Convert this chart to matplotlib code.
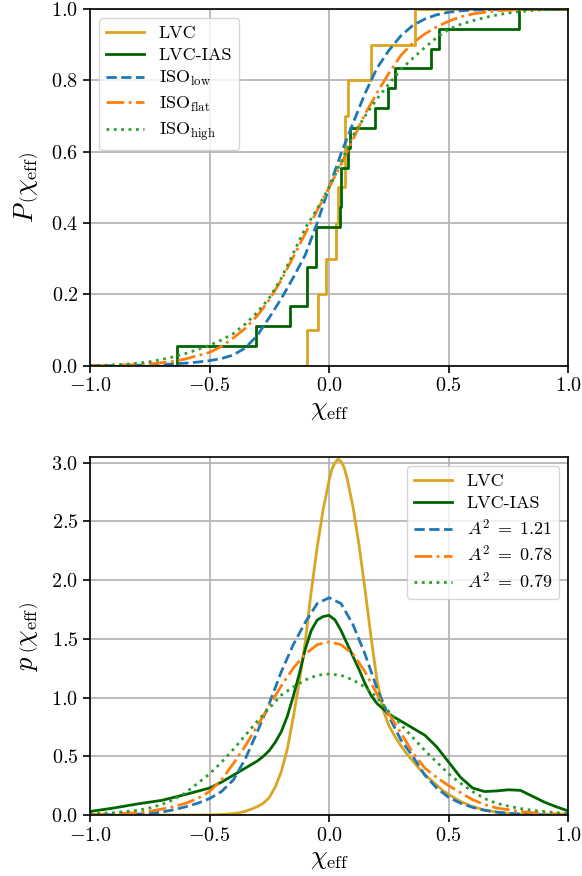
import numpy as np
import matplotlib
matplotlib.use("Agg")
import matplotlib.pyplot as plt

plt.rcParams.update({
    "font.family": "serif",
    "font.serif": ["cmr10"],
    "mathtext.fontset": "cm",
    "axes.formatter.use_mathtext": True,
    "axes.unicode_minus": True,
})

# ---- event values (chi_eff) for the empirical CDFs ----
lvc_events = [-0.094, -0.046, -0.011, 0.028, 0.036, 0.066, 0.066, 0.077, 0.174, 0.358]
ias_events = [-0.635, -0.306, -0.164, -0.094, -0.094, -0.053, -0.053, 0.044, 0.05, 0.05,
              0.08, 0.089, 0.191, 0.247, 0.275, 0.424, 0.46, 0.794]

# ---- common grid for the ISO curves ----
chi_grid = np.linspace(-1.0, 1.0, 41)

cdf_low = [0.000, 0.000, 0.000, 0.001, 0.001, 0.002, 0.003, 0.005, 0.007, 0.010,
           0.014, 0.020, 0.030, 0.050, 0.085, 0.135, 0.188, 0.247, 0.310, 0.400,
           0.500, 0.595, 0.680, 0.763, 0.834, 0.884, 0.925, 0.954, 0.972, 0.984,
           0.991, 0.995, 0.997, 0.998, 0.999, 0.999, 1.000, 1.000, 1.000, 1.000, 1.000]
cdf_flat = [0.000, 0.000, 0.001, 0.002, 0.003, 0.005, 0.008, 0.012, 0.019, 0.028,
            0.037, 0.054, 0.078, 0.105, 0.140, 0.185, 0.240, 0.305, 0.370, 0.435,
            0.500, 0.565, 0.635, 0.705, 0.765, 0.820, 0.870, 0.905, 0.930, 0.950,
            0.966, 0.978, 0.986, 0.991, 0.995, 0.997, 0.998, 0.999, 1.000, 1.000, 1.000]
cdf_high = [0.000, 0.001, 0.002, 0.004, 0.007, 0.011, 0.017, 0.025, 0.034, 0.045,
            0.057, 0.072, 0.090, 0.117, 0.150, 0.190, 0.245, 0.315, 0.385, 0.440,
            0.500, 0.570, 0.645, 0.700, 0.748, 0.790, 0.830, 0.862, 0.892, 0.920,
            0.943, 0.957, 0.967, 0.976, 0.983, 0.989, 0.993, 0.996, 0.998, 0.999, 1.000]

pdf_low = [0.000, 0.001, 0.002, 0.004, 0.008, 0.014, 0.025, 0.045, 0.070, 0.100,
           0.140, 0.200, 0.300, 0.480, 0.710, 0.950, 1.220, 1.450, 1.640, 1.800,
           1.850, 1.800, 1.620, 1.370, 1.080, 0.840, 0.640, 0.500, 0.340, 0.230,
           0.150, 0.100, 0.065, 0.040, 0.025, 0.015, 0.008, 0.004, 0.002, 0.001, 0.000]
pdf_flat = [0.005, 0.007, 0.010, 0.015, 0.020, 0.032, 0.050, 0.072, 0.100, 0.140,
            0.200, 0.300, 0.440, 0.590, 0.760, 0.930, 1.100, 1.250, 1.370, 1.450,
            1.475, 1.450, 1.370, 1.220, 1.030, 0.860, 0.700, 0.530, 0.400, 0.320,
            0.250, 0.190, 0.130, 0.090, 0.060, 0.045, 0.030, 0.020, 0.015, 0.010, 0.005]
pdf_high = [0.010, 0.015, 0.020, 0.030, 0.040, 0.060, 0.090, 0.130, 0.190, 0.270,
            0.350, 0.450, 0.560, 0.680, 0.800, 0.910, 1.020, 1.090, 1.150, 1.190,
            1.200, 1.190, 1.150, 1.090, 1.000, 0.880, 0.770, 0.660, 0.550, 0.450,
            0.350, 0.270, 0.200, 0.140, 0.100, 0.075, 0.055, 0.040, 0.030, 0.020, 0.012]

# ---- KDEs of the catalogues ----
lvc_x = [-1.0, -0.6, -0.5, -0.45, -0.4, -0.375, -0.35, -0.325, -0.3, -0.275, -0.25,
         -0.225, -0.2, -0.175, -0.15, -0.125, -0.1, -0.075, -0.05, -0.025, 0.0, 0.0125,
         0.025, 0.0375, 0.05, 0.0625, 0.075, 0.1, 0.125, 0.15, 0.175, 0.2, 0.225, 0.25,
         0.275, 0.3, 0.325, 0.35, 0.375, 0.4, 0.425, 0.45, 0.475, 0.5, 0.55, 0.6, 0.65,
         0.7, 0.75, 0.8, 0.9, 1.0]
lvc_p = [0.0, 0.0, 0.001, 0.004, 0.012, 0.02, 0.032, 0.05, 0.072, 0.1, 0.15,
         0.24, 0.37, 0.56, 0.83, 1.13, 1.47, 1.9, 2.28, 2.6, 2.85, 2.95,
         3.0, 3.03, 3.01, 2.96, 2.87, 2.62, 2.3, 1.92, 1.52, 1.15, 0.9, 0.76,
         0.67, 0.59, 0.52, 0.46, 0.4, 0.345, 0.3, 0.255, 0.21, 0.175, 0.115, 0.072, 0.043,
         0.025, 0.013, 0.006, 0.001, 0.0]

ias_x = [-1.0, -0.9, -0.8, -0.7, -0.6, -0.5, -0.45, -0.4, -0.35, -0.3, -0.275, -0.25,
         -0.225, -0.2, -0.175, -0.15, -0.125, -0.1, -0.075, -0.05, -0.025, 0.0, 0.025,
         0.05, 0.075, 0.1, 0.125, 0.15, 0.175, 0.2, 0.25, 0.3, 0.35, 0.4, 0.45, 0.5,
         0.55, 0.6, 0.65, 0.7, 0.75, 0.8, 0.85, 0.9, 0.95, 1.0]
ias_p = [0.03, 0.06, 0.095, 0.125, 0.175, 0.23, 0.28, 0.34, 0.4, 0.46, 0.5, 0.55,
         0.62, 0.71, 0.84, 1.01, 1.2, 1.41, 1.57, 1.66, 1.69, 1.70, 1.66,
         1.57, 1.46, 1.35, 1.24, 1.12, 1.02, 0.95, 0.86, 0.80, 0.74, 0.68, 0.58, 0.45,
         0.32, 0.23, 0.20, 0.205, 0.215, 0.21, 0.16, 0.11, 0.07, 0.035]

iso_labels = [r"ISO$_{\rm low}$", r"ISO$_{\rm flat}$", r"ISO$_{\rm high}$"]
a2_labels = [r"$A^2\;=\;1.21$", r"$A^2\;=\;0.78$", r"$A^2\;=\;0.79$"]

c_lvc = "goldenrod"
c_ias = "darkgreen"
iso_styles = [("tab:blue", "--"), ("tab:orange", "-."), ("tab:green", ":")]


def ecdf(events):
    ev = np.sort(np.array(events))
    xs = np.concatenate([[-1.0], ev, [1.0]])
    ys = np.concatenate([[0.0], np.arange(1, len(ev) + 1) / len(ev), [1.0]])
    return xs, ys


fig = plt.figure(figsize=(5.82, 8.76), dpi=100)
ax1 = fig.add_axes([0.1546, 0.5826, 0.8218, 0.4071])
ax2 = fig.add_axes([0.1546, 0.0696, 0.8218, 0.4083])

lw = 2.0
label_fs = 19
tick_fs = 14.5
leg_fs = 13
leg_kw = dict(fontsize=leg_fs, labelspacing=0.35, handlelength=2.1)

# top: cumulative
x, y = ecdf(lvc_events)
ax1.step(x, y, where="post", color=c_lvc, lw=lw, label="LVC")
x, y = ecdf(ias_events)
ax1.step(x, y, where="post", color=c_ias, lw=lw, label="LVC-IAS")
for cdf, (col, ls), lab in zip([cdf_low, cdf_flat, cdf_high], iso_styles, iso_labels):
    ax1.plot(chi_grid, cdf, color=col, ls=ls, lw=lw, label=lab)

ax1.set_xlim(-1, 1)
ax1.set_ylim(0, 1)
ax1.set_xlabel(r"$\chi_{\rm eff}$", fontsize=label_fs, labelpad=2)
ax1.set_ylabel(r"$P\,\left(\chi_{\rm eff}\right)$", fontsize=label_fs, labelpad=8)
ax1.grid(True, color="#b0b0b0", lw=1.2)
ax1.legend(loc="upper left", **leg_kw)

# bottom: densities
ax2.plot(lvc_x, lvc_p, color=c_lvc, lw=lw, label="LVC")
ax2.plot(ias_x, ias_p, color=c_ias, lw=lw, label="LVC-IAS")
for pdf, (col, ls), lab in zip([pdf_low, pdf_flat, pdf_high], iso_styles, a2_labels):
    ax2.plot(chi_grid, pdf, color=col, ls=ls, lw=lw, label=lab)

ax2.set_xlim(-1, 1)
ax2.set_ylim(0, 3.045)
ax2.set_xlabel(r"$\chi_{\rm eff}$", fontsize=label_fs, labelpad=2)
ax2.set_ylabel(r"$p\,\left(\chi_{\rm eff}\right)$", fontsize=label_fs, labelpad=8)
ax2.grid(True, color="#b0b0b0", lw=1.2)
ax2.legend(loc="upper right", **leg_kw)

for ax in (ax1, ax2):
    ax.tick_params(labelsize=tick_fs, width=1.2, length=5)
    for s in ax.spines.values():
        s.set_linewidth(1.2)
    ax.set_axisbelow(True)

fig.savefig("out.png", dpi=100)
